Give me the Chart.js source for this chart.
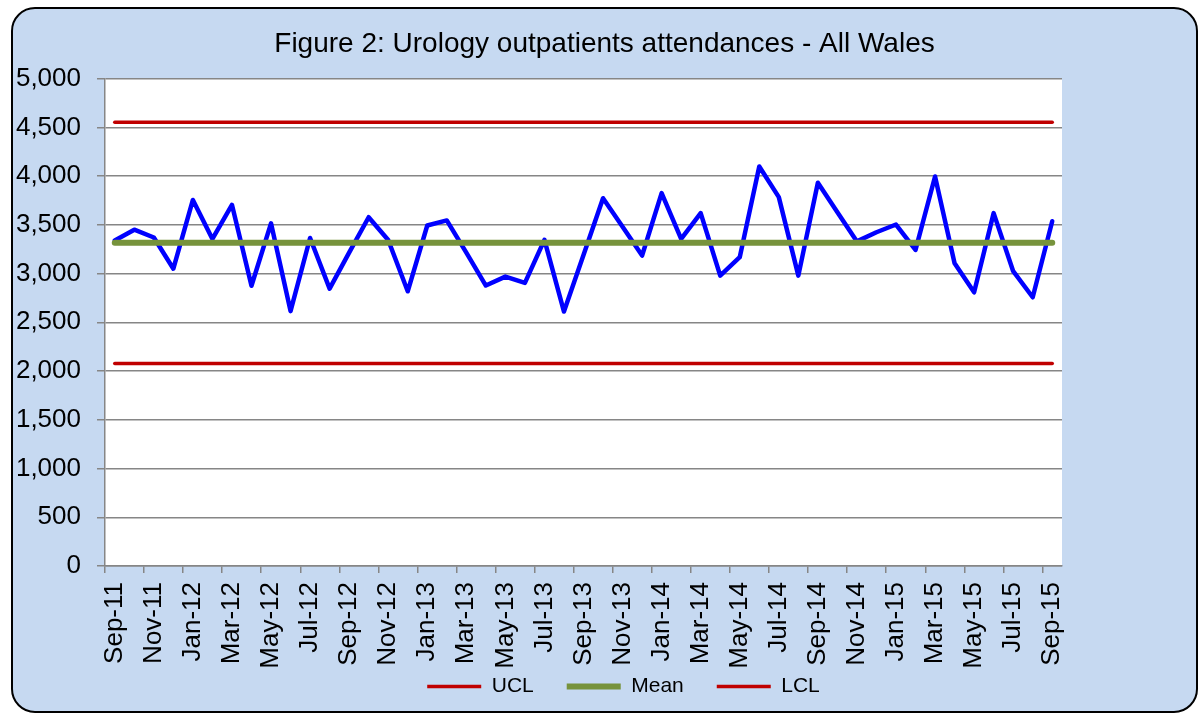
<!DOCTYPE html>
<html>
<head>
<meta charset="utf-8">
<script src="https://cdn.jsdelivr.net/npm/chart.js@4.4.1/dist/chart.umd.min.js"></script>
<style>
  html, body { margin: 0; padding: 0; background: #ffffff; }
  #frame {
    position: absolute;
    left: 11px;
    top: 7px;
    width: 1183px;
    height: 702px;
    border: 2px solid #000000;
    border-radius: 24px;
    background: #c6d9f1;
  }
  #wrap { position: relative; width: 1183px; height: 702px; }
</style>
</head>
<body>
<div id="frame">
  <div id="wrap"><canvas id="chart"></canvas></div>
</div>
<script>
const months = [
  "Sep-11", "Oct-11", "Nov-11", "Dec-11",
  "Jan-12", "Feb-12", "Mar-12", "Apr-12", "May-12", "Jun-12", "Jul-12", "Aug-12", "Sep-12", "Oct-12", "Nov-12", "Dec-12",
  "Jan-13", "Feb-13", "Mar-13", "Apr-13", "May-13", "Jun-13", "Jul-13", "Aug-13", "Sep-13", "Oct-13", "Nov-13", "Dec-13",
  "Jan-14", "Feb-14", "Mar-14", "Apr-14", "May-14", "Jun-14", "Jul-14", "Aug-14", "Sep-14", "Oct-14", "Nov-14", "Dec-14",
  "Jan-15", "Feb-15", "Mar-15", "Apr-15", "May-15", "Jun-15", "Jul-15", "Aug-15", "Sep-15"
];

const attendances = [
  3340, 3450, 3370, 3050,
  3755, 3355, 3705, 2875, 3515, 2615, 3365, 2845, 3215, 3578, 3345, 2818,
  3493, 3545, 3215, 2877, 2969, 2904, 3346, 2610, 3190, 3773, 3480, 3185,
  3825, 3356, 3620, 2979, 3168, 4099, 3784, 2979, 3931, 3630, 3330, 3424,
  3503, 3243, 3996, 3106, 2808, 3620, 3024, 2757, 3537
];

const uclValue = 4553;
const meanValue = 3315;
const lclValue = 2077;

const yTicks = [0, 500, 1000, 1500, 2000, 2500, 3000, 3500, 4000, 4500, 5000];

// a control line runs from the first month to the last one
function flatLine(value) {
  return [
    { x: months[0], y: value },
    { x: months[months.length - 1], y: value }
  ];
}

const plotBackground = {
  id: "plotBackground",
  beforeDraw(chart) {
    const { ctx, chartArea } = chart;
    ctx.save();
    ctx.fillStyle = "#ffffff";
    ctx.fillRect(chartArea.left, chartArea.top, chartArea.right - chartArea.left, chartArea.bottom - chartArea.top);
    ctx.restore();
  }
};

// put the legend where it sits in the original
const legendShift = {
  id: "legendShift",
  afterLayout(chart) {
    const lg = chart.legend;
    lg.left += 19;
    lg.right += 19;
    lg.top = 634;
  }
};

const ctx = document.getElementById("chart").getContext("2d");

new Chart(ctx, {
  type: "line",
  data: {
    labels: months,
    datasets: [
      {
        label: "Attendances",
        data: attendances,
        borderColor: "#0000ff",
        backgroundColor: "#0000ff",
        borderWidth: 4.5,
        borderJoinStyle: "round",
        borderCapStyle: "round",
        tension: 0,
        pointRadius: 0,
        fill: false,
        order: 1
      },
      {
        label: "UCL",
        data: flatLine(uclValue),
        borderColor: "#c00000",
        backgroundColor: "#c00000",
        borderWidth: 3.5,
        borderCapStyle: "round",
        pointRadius: 0,
        order: 0
      },
      {
        label: "Mean",
        data: flatLine(meanValue),
        borderColor: "#77933c",
        backgroundColor: "#77933c",
        borderWidth: 6,
        borderCapStyle: "round",
        pointRadius: 0,
        order: 0
      },
      {
        label: "LCL",
        data: flatLine(lclValue),
        borderColor: "#c00000",
        backgroundColor: "#c00000",
        borderWidth: 3.5,
        borderCapStyle: "round",
        pointRadius: 0,
        order: 0
      }
    ]
  },
  options: {
    responsive: true,
    maintainAspectRatio: false,
    animation: false,
    layout: { padding: 0 },
    plugins: {
      title: {
        display: true,
        text: "Figure 2: Urology outpatients attendances - All Wales",
        color: "#000000",
        font: { family: "Liberation Sans, Arial, sans-serif", size: 28, weight: "normal" },
        padding: { top: 18, bottom: 18 }
      },
      legend: {
        position: "bottom",
        maxHeight: 25,
        labels: {
          filter: (item) => item.text !== "Attendances",
          usePointStyle: true,
          pointStyle: "line",
          pointStyleWidth: 54,
          boxHeight: 21,
          padding: 33,
          color: "#000000",
          font: { family: "Liberation Sans, Arial, sans-serif", size: 21 }
        }
      },
      tooltip: { enabled: false }
    },
    scales: {
      x: {
        type: "category",
        offset: true,
        afterFit: (scale) => { scale.height = 120; },
        grid: {
          offset: true,
          drawOnChartArea: false,
          drawTicks: true,
          tickLength: 7,
          color: (c) => (c.index % 2 === 0 ? "#868686" : "rgba(0,0,0,0)"),
          lineWidth: 1.5
        },
        border: { display: true, color: "#868686", width: 1.5 },
        ticks: {
          autoSkip: false,
          maxRotation: 90,
          minRotation: 90,
          padding: 9,
          color: "#000000",
          font: { family: "Liberation Sans, Arial, sans-serif", size: 26 },
          callback: (value, index) => (index % 2 === 0 ? months[index] : "")
        }
      },
      y: {
        min: 0,
        max: 5000,
        afterFit: (scale) => { scale.width = 92; },
        afterBuildTicks: (scale) => { scale.ticks = yTicks.map((v) => ({ value: v })); },
        grid: {
          color: "#868686",
          lineWidth: 1.5,
          drawTicks: true,
          tickLength: 8
        },
        border: { display: true, color: "#868686", width: 1.5 },
        ticks: {
          padding: 16,
          color: "#000000",
          font: { family: "Liberation Sans, Arial, sans-serif", size: 26 },
          callback: (value) => value.toLocaleString("en-GB")
        }
      },
      spacer: {
        type: "linear",
        position: "right",
        display: true,
        afterFit: (scale) => { scale.width = 134; },
        grid: { display: false },
        border: { display: false },
        ticks: { display: false }
      }
    }
  },
  plugins: [plotBackground, legendShift]
});
</script>
</body>
</html>
